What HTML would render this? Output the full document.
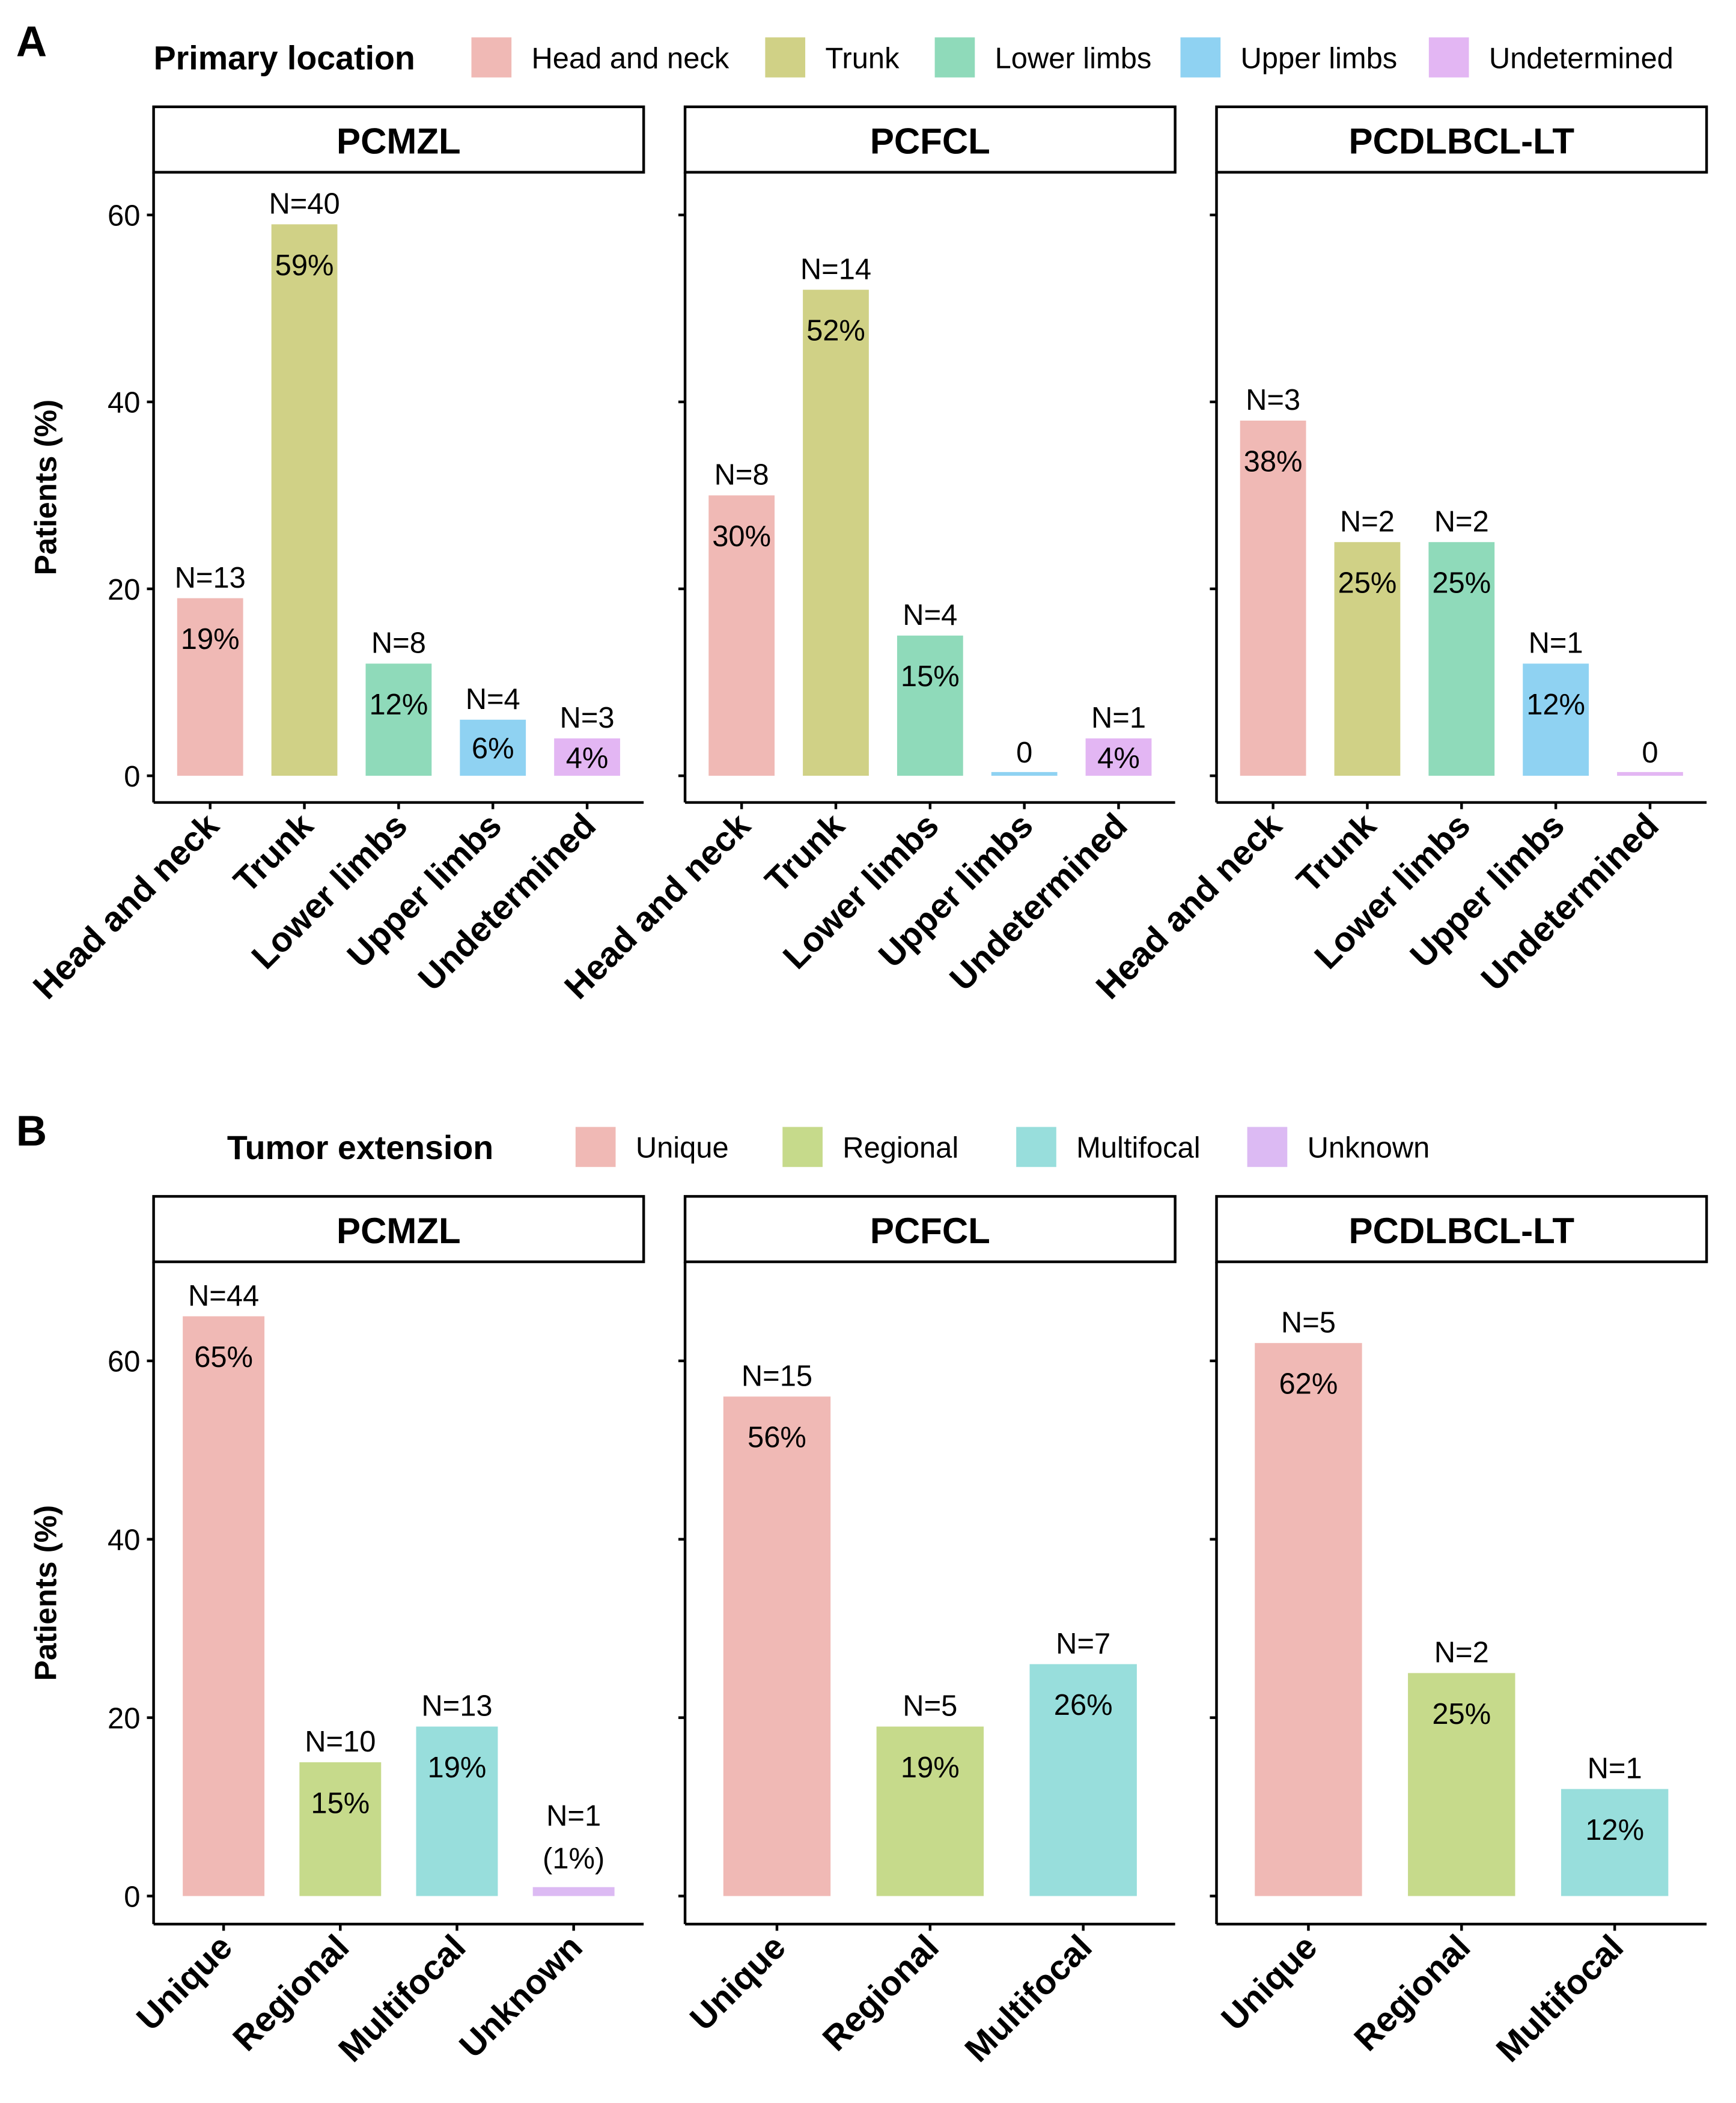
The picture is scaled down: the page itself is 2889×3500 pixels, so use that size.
<!DOCTYPE html>
<html><head><meta charset="utf-8">
<style>
html,body{margin:0;padding:0;background:#fff;}
svg{display:block;}
text{font-family:"Liberation Sans",Arial,sans-serif;fill:#000;}
</style></head>
<body>
<svg id="chart" width="2889" height="3500" viewBox="0 0 1300 1575" xmlns="http://www.w3.org/2000/svg"></svg>
<script>
// ---- Panel A data ----
const catsA = ["Head and neck","Trunk","Lower limbs","Upper limbs","Undetermined"];
const colorsA = ["#F0B9B5","#D0D186","#8FDABA","#8FD2F2","#E3B6F3"];
const facets = ["PCMZL","PCFCL","PCDLBCL-LT"];
const pctA_PCMZL = [19,59,12,6,4];
const nA_PCMZL = [13,40,8,4,3];
const pctA_PCFCL = [30,52,15,0,4];
const nA_PCFCL = [8,14,4,0,1];
const pctA_DLBCL = [38,25,25,12,0];
const nA_DLBCL = [3,2,2,1,0];
// ---- Panel B data ----
const catsB = ["Unique","Regional","Multifocal","Unknown"];
const colorsB = ["#F0B9B5","#C6DA8B","#98DEDC","#DCBAF3"];
const pctB_PCMZL = [65,15,19,1];
const nB_PCMZL = [44,10,13,1];
const pctB_PCFCL = [56,19,26];
const nB_PCFCL = [15,5,7];
const pctB_DLBCL = [62,25,12];
const nB_DLBCL = [5,2,1];
const yTicks = [0,20,40,60];

const NS="http://www.w3.org/2000/svg";
const svg=document.getElementById('chart');
function mk(tag,attrs,parent){const e=document.createElementNS(NS,tag);for(const k in attrs)e.setAttribute(k,attrs[k]);(parent||svg).appendChild(e);return e;}
function txt(s,attrs,parent){const e=mk('text',attrs,parent);e.textContent=s;return e;}

const facetX=[115,513,911], facetW=367;

function panel(cfg){
  let t=txt(cfg.letter,{x:12,y:cfg.letterY,'font-size':32,'font-weight':'bold'});
  
  
  let lt=txt(cfg.legendTitle,{x:cfg.legendTitleX,y:cfg.legendY+9,'font-size':25,'font-weight':'bold'});
  
  
  cfg.cats.forEach((c,i)=>{
    const g=mk('g',{});
    
    
    mk('rect',{x:cfg.legendX[i],y:cfg.legendY-15,width:30,height:30,fill:cfg.colors[i]},g);
    txt(c,{x:cfg.legendX[i]+45,y:cfg.legendY+8,'font-size':22,fill:'#111'},g);
  });
  const ya=txt('Patients (%)',{x:0,y:0,'font-size':23,'font-weight':'bold','text-anchor':'middle',transform:`translate(42,${(cfg.top+cfg.bottom)/2}) rotate(-90)`});
  
  
  const yScale=v=>cfg.y0-v*cfg.perUnit;
  facets.forEach((f,fi)=>{
    const x0=facetX[fi];
    const g=mk('g',{});
    
    
    const st=mk('rect',{x:x0,y:cfg.stripTop,width:facetW,height:cfg.top-cfg.stripTop,fill:'#fff',stroke:'#000','stroke-width':2},g);
    
    
    txt(f,{x:x0+facetW/2,y:cfg.stripTop+35,'font-size':27,'font-weight':'bold','text-anchor':'middle'},g);
    mk('line',{x1:x0,y1:cfg.top,x2:x0,y2:cfg.bottom,stroke:'#000','stroke-width':2},g);
    mk('line',{x1:x0,y1:cfg.bottom,x2:x0+facetW,y2:cfg.bottom,stroke:'#000','stroke-width':2},g);
    yTicks.forEach(v=>{
      mk('line',{x1:x0-5,y1:yScale(v),x2:x0,y2:yScale(v),stroke:'#000','stroke-width':2},g);
      if(fi===0){
        const tl=txt(String(v),{x:x0-10,y:yScale(v)+8,'font-size':22,'text-anchor':'end',fill:'#222'},g);
        
        
      }
    });
    const pcts=cfg.pcts[fi], ns=cfg.ns[fi];
    const n=pcts.length, unit=facetW/(n-1+1.2);
    pcts.forEach((p,i)=>{
      const cx=x0+(0.6+i)*unit, bw=0.7*unit;
      const top=yScale(p===0?0.4:p);
      const bar=mk('rect',{x:cx-bw/2,y:top,width:bw,height:cfg.y0-top,fill:cfg.colors[i]},g);
      
      
      const yt=yScale(p);
      const special=(cfg.letter==='B'&&fi===0&&i===3);
      if(p===0){
        txt('0',{x:cx,y:yt-10,'font-size':22,'text-anchor':'middle'},g);
      } else if(special){
        txt('N='+ns[i],{x:cx,y:yt-46,'font-size':22,'text-anchor':'middle'},g);
        txt('('+p+'%)',{x:cx,y:yt-14,'font-size':22,'text-anchor':'middle',fill:'#111'},g);
      } else {
        txt('N='+ns[i],{x:cx,y:yt-8,'font-size':22,'text-anchor':'middle'},g);
        const h=cfg.y0-yt;
        const c=yt+Math.min(30,h/2);
        txt(p+'%',{x:cx,y:c+8,'font-size':22,'text-anchor':'middle',fill:'#111'},g);
      }
      mk('line',{x1:cx,y1:cfg.bottom,x2:cx,y2:cfg.bottom+5,stroke:'#000','stroke-width':2},g);
      const xl=txt(cfg.cats[i],{x:0,y:0,'font-size':26,'font-weight':'bold','text-anchor':'end',transform:`translate(${cx+8},${cfg.bottom+19}) rotate(-45)`},g);
      
      
    });
  });
}

panel({letter:'A',letterY:42,legendTitle:'Primary location',legendTitleX:115,legendY:43,
  legendX:[353,573,700,884,1070],cats:catsA,colors:colorsA,
  stripTop:80,top:129,bottom:601,y0:581,perUnit:7,
  pcts:[pctA_PCMZL,pctA_PCFCL,pctA_DLBCL],ns:[nA_PCMZL,nA_PCFCL,nA_DLBCL]});
panel({letter:'B',letterY:858,legendTitle:'Tumor extension',legendTitleX:170,legendY:859,
  legendX:[431,586,761,934],cats:catsB,colors:colorsB,
  stripTop:896,top:945,bottom:1441,y0:1420,perUnit:6.68,
  pcts:[pctB_PCMZL,pctB_PCFCL,pctB_DLBCL],ns:[nB_PCMZL,nB_PCFCL,nB_DLBCL]});
</script>
</body></html>
